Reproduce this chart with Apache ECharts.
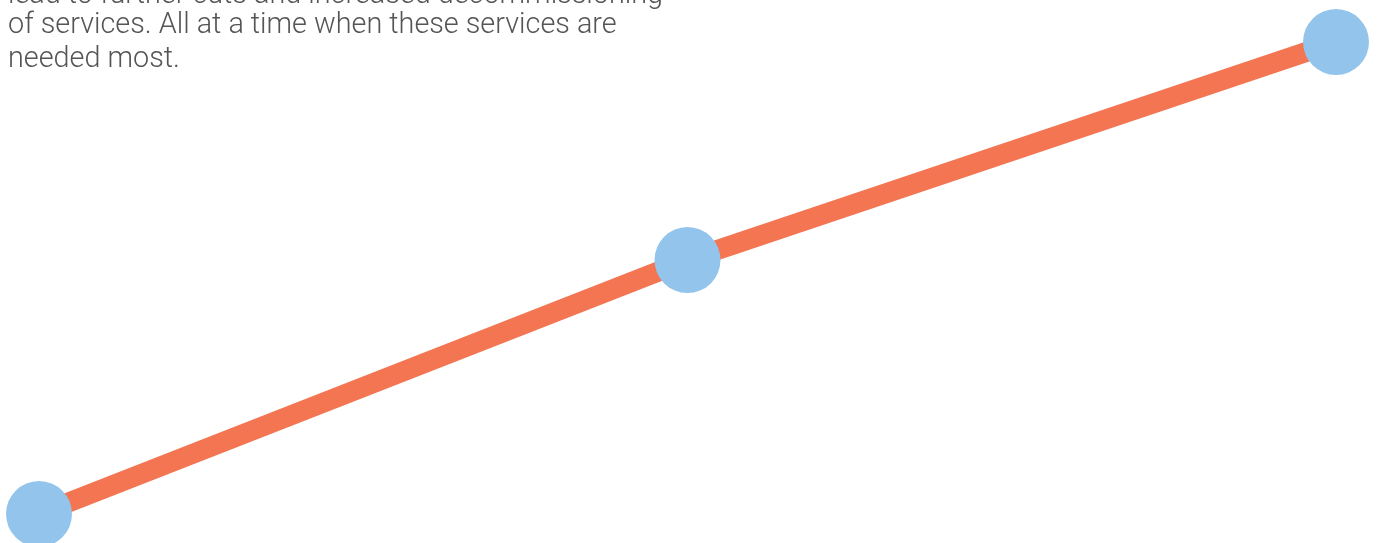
<!DOCTYPE html>
<html>
<head>
<meta charset="utf-8">
<script src="https://cdn.jsdelivr.net/npm/echarts@6/dist/echarts.min.js"></script>
<style>html,body{margin:0;padding:0;background:#fff;}#chart{width:1381px;height:543px;}</style>
</head>
<body>
<div id="chart"></div>
<script>
const categories = ['A', 'B', 'C'];
const values = [0, 53.8, 100];
const textLines = [
  'lead to further cuts and increased decommissioning',
  'of services. All at a time when these services are',
  'needed most.'
];

const textFont = '300 28.8px Roboto, "Liberation Sans", sans-serif';
const chart = echarts.init(document.getElementById('chart'));
chart.setOption({
  animation: false,
  grid: { left: 39, right: 45, top: 42, bottom: 29 },
  xAxis: { type: 'category', data: categories, boundaryGap: false, show: false },
  yAxis: { type: 'value', min: 0, max: 100, show: false },
  graphic: [{
    type: 'text',
    left: 8,
    top: -21,
    z: 10,
    style: { text: textLines[0], font: textFont, lineHeight: 34, fill: '#555555' }
  }, {
    type: 'text',
    left: 8,
    top: 9,
    z: 10,
    style: { text: textLines.slice(1).join('\n'), font: textFont, lineHeight: 34, fill: '#555555' }
  }],
  series: [{
    type: 'line',
    data: values,
    symbol: 'circle',
    symbolSize: 66,
    lineStyle: { color: '#F37552', width: 20 },
    itemStyle: { color: '#93C5EC' },
    emphasis: { disabled: true }
  }]
});
</script>
</body>
</html>
